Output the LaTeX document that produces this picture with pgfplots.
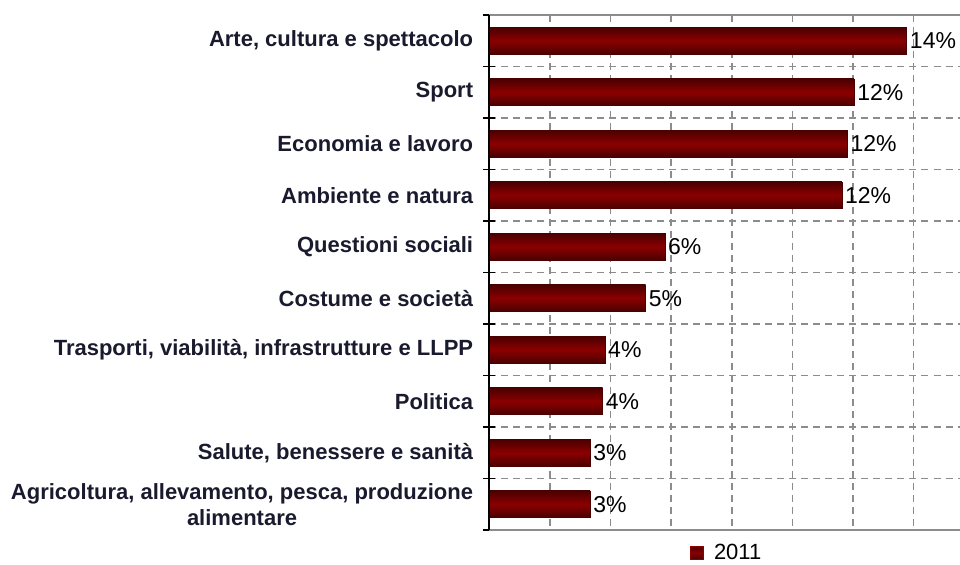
\documentclass[border=0pt]{standalone}
\usepackage{fontspec}
\setmainfont{Liberation Sans}
\usepackage{pgfplots}
\pgfplotsset{compat=1.18}
\definecolor{barred}{HTML}{8B0000}
\definecolor{bardark}{HTML}{4A0000}
\definecolor{gridgray}{HTML}{8C8C8C}
\definecolor{labelnavy}{HTML}{1A1A2E}

\pgfplotsset{mybar/.style={xbar, bar shift=0pt, point meta=x, draw=bardark,
  line width=0.3pt, top color=bardark, bottom color=bardark, middle color=barred}}

\begin{document}
\begin{tikzpicture}
\path[use as bounding box] (0,0) rectangle (480pt,282.5pt);
\begin{axis}[
  at={(244.75pt,17.5pt)}, anchor=south west,
  scale only axis, width=235.25pt, height=257.5pt,
  xbar, bar width=0.52,
  xmin=0, xmax=15.53, ymin=-0.5, ymax=9.5, y dir=reverse,
  ytick={0,...,9},
  yticklabels={{Arte, cultura e spettacolo}, Sport, Economia e lavoro, Ambiente e natura,
    Questioni sociali, Costume e società, {Trasporti, viabilità, infrastrutture e LLPP},
    Politica, {Salute, benessere e sanità},
    {Agricoltura, allevamento, pesca, produzione\\alimentare}},
  minor ytick={-0.5,0.5,...,9.5},
  xtick={2,4,...,14}, xticklabels={},
  ytick pos=left, xtick pos=bottom,
  major tick length=0pt, minor tick length=6pt, tick align=center,
  minor tick style={black, line width=0.7pt},
  xmajorgrids, yminorgrids,
  major grid style={gridgray, line width=0.8pt, dash pattern=on 3.5pt off 2.5pt},
  minor grid style={gridgray, line width=0.8pt, dash pattern=on 3.5pt off 2.5pt},
  axis line style={draw=none},
  yticklabel style={font=\fontsize{11}{13}\selectfont\bfseries, text=labelnavy,
    align=center, inner sep=0pt, xshift=-8pt},
  /pgf/number format/assume math mode=true,
  nodes near coords={\pgfmathprintnumber[fixed,precision=0,assume math mode=true]{\pgfplotspointmeta}\%},
  nodes near coords style={font=\fontsize{11.5}{13}\selectfont, text=black,
    anchor=west, inner sep=1.5pt},
  legend style={at={(0.513,-0.018)}, anchor=north, draw=none, fill=none,
    font=\fontsize{11}{13}\selectfont, inner sep=0pt,
    nodes={inner xsep=5pt}},
  legend image code/.code={\fill[barred] (0pt,-3.25pt) rectangle (6.5pt,3.25pt);},
  clip=false,
]
\addplot[mybar] coordinates {(13.77,0)};
\addlegendentry{2011}
\addplot[mybar, forget plot] coordinates {(12.03,1)};
\addplot[mybar, forget plot] coordinates {(11.81,2)};
\addplot[mybar, forget plot] coordinates {(11.63,3)};
\addplot[mybar, forget plot] coordinates {(5.79,4)};
\addplot[mybar, forget plot] coordinates {(5.15,5)};
\addplot[mybar, forget plot] coordinates {(3.81,6)};
\addplot[mybar, forget plot] coordinates {(3.73,7)};
\addplot[mybar, forget plot] coordinates {(3.32,8)};
\addplot[mybar, forget plot] coordinates {(3.32,9)};
\draw[gridgray, line width=0.8pt] (rel axis cs:0,0) -- (rel axis cs:1,0);
\draw[gridgray, line width=0.8pt] (rel axis cs:0,1) -- (rel axis cs:1,1);
\draw[black, line width=1pt] (rel axis cs:0,0) -- (rel axis cs:0,1);
\end{axis}
\end{tikzpicture}
\end{document}
